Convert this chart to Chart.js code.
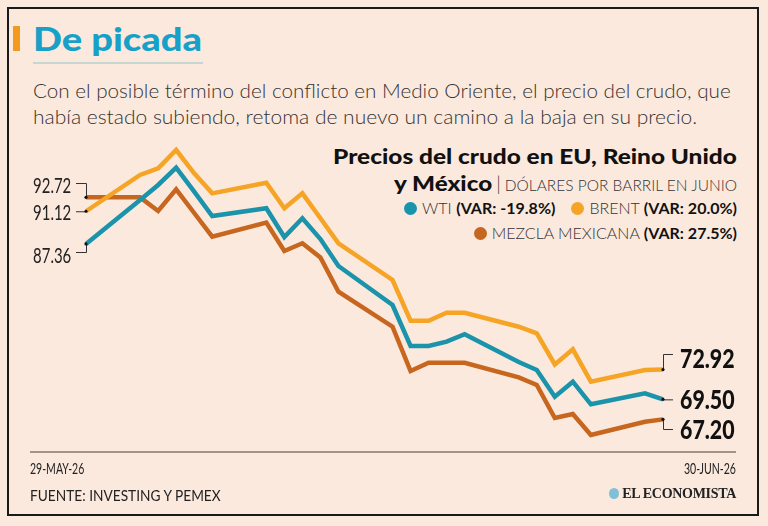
<!DOCTYPE html>
<html lang="es">
<head>
  <meta charset="UTF-8" />
  <title>De picada</title>
  <script src="https://cdn.jsdelivr.net/npm/chart.js"></script>
  <style>
    html, body {
      margin: 0;
      padding: 0;
      background: #fce9dd;
    }
    body {
      width: 768px;
      height: 526px;
      position: relative;
      overflow: hidden;
      font-family: Lato, "Noto Sans", sans-serif;
      color: #222;
    }
    .marco {
      position: absolute;
      left: 7px; top: 7px;
      width: 752px; height: 509px;
      border: 2.5px solid #1a1a1a;
      box-sizing: border-box;
    }
    .barra {
      position: absolute;
      left: 13px; top: 26px;
      width: 7px; height: 25px;
      background: #f39a1e;
    }
    .titulo {
      position: absolute;
      left: 33px; top: 19px;
      font-size: 32px;
      font-weight: 900;
      color: #17a1c8;
      line-height: 40px;
      white-space: nowrap;
    }
    .subrayado {
      position: absolute;
      left: 33px; top: 62px;
      width: 170px; height: 2px;
      background: #c6d6d1;
    }
    .sub {
      position: absolute;
      left: 33px;
      font-size: 20.5px;
      font-weight: 300;
      color: #333;
      white-space: nowrap;
      line-height: 24px;
    }
    .derecha {
      position: absolute;
      right: 31px;
      white-space: nowrap;
      text-align: right;
    }
    .t1 { font-size: 21.5px; font-weight: 900; line-height: 26px; color: #111; }
    .ligero { font-weight: 300; font-size: 15.5px; color: #333; }
    .leyenda { font-size: 16px; line-height: 20px; color: #333; font-weight: 300; }
    .leyenda b { font-weight: 700; color: #111; }
    .punto {
      display: inline-block;
      width: 13px; height: 13px;
      border-radius: 50%;
      vertical-align: -1px;
      margin-right: 5px;
      margin-left: 14px;
    }
    .eje {
      position: absolute;
      left: 30px; top: 451px;
      width: 706px; height: 1.5px;
      background: #a09389;
    }
    .pie {
      position: absolute;
      font-size: 15px;
      color: #222;
      white-space: nowrap;
    }
    .logo {
      position: absolute;
      right: 32px; top: 486px;
      font-family: "Liberation Serif", serif;
      font-weight: 700;
      font-size: 14px;
      color: #222;
      letter-spacing: -0.3px;
      white-space: nowrap;
    }
    .logo span {
      display: inline-block;
      width: 10px; height: 11px;
      border-radius: 50%;
      background: #7fc0d8;
      margin-right: 3px;
      vertical-align: -1px;
    }
    .valor {
      position: absolute;
      white-space: nowrap;
      color: #111;
      line-height: 1;
    }
    .ini { font-size: 22px; color: #222; }
    .fin { font-size: 26px; font-weight: 900; }
    canvas { position: absolute; left: 0; top: 0; }
  </style>
</head>
<body>

  <div class="marco"></div>
  <div class="barra"></div>
  <div class="titulo" id="titulo">De picada</div>
  <div class="subrayado"></div>
  <div class="sub" id="sub1" style="top:78px">Con el posible término del conflicto en Medio Oriente, el precio del crudo, que</div>
  <div class="sub" id="sub2" style="top:104px">había estado subiendo, retoma de nuevo un camino a la baja en su precio.</div>

  <div class="derecha t1" id="t1" style="top:143px">Precios del crudo en EU, Reino Unido</div>
  <div class="derecha" style="top:170px"><span class="t1" id="t2" style="display:inline-block">y México</span> <span class="ligero" style="font-size:19px">|</span> <span class="ligero">DÓLARES POR BARRIL EN JUNIO</span></div>
  <div class="derecha leyenda" style="top:198px"><span class="punto" style="background:#1a93ab"></span>WTI <b>(VAR: -19.8%)</b><span class="punto" style="background:#f5a425; margin-left:16px"></span>BRENT <b>(VAR: 20.0%)</b></div>
  <div class="derecha leyenda" style="top:223px"><span class="punto" style="background:#c6661f"></span>MEZCLA MEXICANA <b>(VAR: 27.5%)</b></div>

  <canvas id="grafico-crudo" width="768" height="526"></canvas>

  <div class="eje"></div>
  <div class="pie" id="f1" style="left:30px; top:459px">29-MAY-26</div>
  <div class="pie" id="f2" style="right:32px; top:459px">30-JUN-26</div>
  <div class="pie" id="f3" style="left:30px; top:486px; font-size:15.5px">FUENTE: INVESTING Y PEMEX</div>
  <div class="logo"><span></span>EL ECONOMISTA</div>

  <script>
    // dias del 29 de mayo al 30 de junio (fines de semana sin dato)
    const dias = [
      '29-MAY-26', '30-MAY-26', '31-MAY-26',
      '01-JUN-26', '02-JUN-26', '03-JUN-26', '04-JUN-26', '05-JUN-26', '06-JUN-26', '07-JUN-26',
      '08-JUN-26', '09-JUN-26', '10-JUN-26', '11-JUN-26', '12-JUN-26', '13-JUN-26', '14-JUN-26',
      '15-JUN-26', '16-JUN-26', '17-JUN-26', '18-JUN-26', '19-JUN-26', '20-JUN-26', '21-JUN-26',
      '22-JUN-26', '23-JUN-26', '24-JUN-26', '25-JUN-26', '26-JUN-26', '27-JUN-26', '28-JUN-26',
      '29-JUN-26', '30-JUN-26'
    ];

    const wti = [
      87.36, null, null,
      92.41, 94.14, 96.13, 93.37, 90.57, null, null,
      91.46, 88.16, 90.31, 87.93, 84.83, null, null,
      80.34, 75.63, 75.63, 76.13, 76.98, null, null,
      73.79, 72.87, 69.80, 71.53, 68.93, null, null,
      70.20, 69.50
    ];

    const brent = [
      91.12, null, null,
      95.29, 96.06, 98.16, 95.48, 93.18, null, null,
      94.40, 91.46, 93.18, 90.31, 87.44, null, null,
      83.22, 78.54, 78.54, 79.46, 79.46, null, null,
      77.85, 77.09, 73.51, 75.25, 71.53, null, null,
      72.87, 72.92
    ];

    const mezcla = [
      92.72, null, null,
      92.72, 91.15, 93.64, 90.92, 88.20, null, null,
      89.83, 86.55, 87.44, 85.80, 81.87, null, null,
      77.85, 72.76, 73.71, 73.71, 73.71, null, null,
      72.03, 71.15, 67.36, 67.82, 65.40, null, null,
      66.93, 67.20
    ];

    const colores = { wti: '#1a93ab', brent: '#f5a425', mezcla: '#c6661f' };

    // estira o encoge un texto hasta un ancho dado
    function ajustar(el, ancho, origen) {
      const w = el.offsetWidth;
      el.style.transformOrigin = origen + ' center';
      el.style.transform = 'scaleX(' + (ancho / w) + ')';
    }

    // corchetes y puntitos negros en los extremos
    const marcas = {
      id: 'marcas',
      afterDatasetsDraw(chart) {
        const ctx = chart.ctx;
        const x = chart.scales.x, y = chart.scales.y;
        const last = dias.length - 1;
        const x0 = x.getPixelForValue(0), x1 = x.getPixelForValue(last);
        ctx.save();
        ctx.strokeStyle = '#333';
        ctx.lineWidth = 1;
        const linea = (pts) => {
          ctx.beginPath();
          ctx.moveTo(pts[0][0], pts[0][1]);
          pts.slice(1).forEach(p => ctx.lineTo(p[0], p[1]));
          ctx.stroke();
        };
        // izquierda
        linea([[76, 183.5], [x0 + 0.5, 183.5], [x0 + 0.5, y.getPixelForValue(mezcla[0])]]);
        linea([[76, y.getPixelForValue(brent[0]) + 0.5], [x0, y.getPixelForValue(brent[0]) + 0.5]]);
        linea([[76, 252.5], [x0 + 0.5, 252.5], [x0 + 0.5, y.getPixelForValue(wti[0])]]);
        // derecha
        linea([[x1 + 0.5, y.getPixelForValue(brent[last])], [x1 + 0.5, 354.5], [673, 354.5]]);
        linea([[x1, y.getPixelForValue(wti[last]) + 0.5], [673, y.getPixelForValue(wti[last]) + 0.5]]);
        linea([[x1 + 0.5, y.getPixelForValue(mezcla[last])], [x1 + 0.5, 429.5], [673, 429.5]]);
        ctx.fillStyle = '#111';
        [wti, brent, mezcla].forEach(s => {
          [0, last].forEach(i => {
            ctx.beginPath();
            ctx.arc(x.getPixelForValue(i), y.getPixelForValue(s[i]), 1.6, 0, Math.PI * 2);
            ctx.fill();
          });
        });
        ctx.restore();
      }
    };

    const ctx = document.getElementById('grafico-crudo').getContext('2d');
    const grafico = new Chart(ctx, {
      type: 'line',
      data: {
        labels: dias,
        datasets: [
          { label: 'WTI', data: wti, borderColor: colores.wti },
          { label: 'BRENT', data: brent, borderColor: colores.brent },
          { label: 'MEZCLA MEXICANA', data: mezcla, borderColor: colores.mezcla }
        ]
      },
      options: {
        responsive: false,
        animation: false,
        devicePixelRatio: 1,
        spanGaps: true,
        layout: { padding: { left: 86, right: 105, top: 134, bottom: 44 } },
        elements: {
          line: { borderWidth: 4.5, tension: 0, borderJoinStyle: 'miter', borderCapStyle: 'butt' },
          point: { radius: 0, hoverRadius: 0 }
        },
        clip: false,
        plugins: {
          legend: { display: false },
          tooltip: { enabled: false }
        },
        scales: {
          x: { display: false },
          y: { display: false, min: 60, max: 100 }
        }
      },
      plugins: [marcas]
    });

    // etiquetas de valores (texto real) colocadas con las escalas
    const sy = grafico.scales.y;
    const last = dias.length - 1;
    function etiqueta(texto, clase, x, yc, ancho, derecha) {
      const d = document.createElement('div');
      d.className = 'valor ' + clase;
      d.textContent = texto;
      document.body.appendChild(d);
      const h = d.offsetHeight;
      d.style.top = (yc - h / 2) + 'px';
      if (derecha) d.style.right = (768 - x) + 'px';
      else d.style.left = x + 'px';
      ajustar(d, ancho, derecha ? 'right' : 'left');
    }
    etiqueta(mezcla[0].toFixed(2), 'ini', 71, 185, 38, true);
    etiqueta(brent[0].toFixed(2), 'ini', 71, sy.getPixelForValue(brent[0]) + 1, 38, true);
    etiqueta(wti[0].toFixed(2), 'ini', 71, 255, 38, true);
    etiqueta(brent[last].toFixed(2), 'fin', 680, 358, 55, false);
    etiqueta(wti[last].toFixed(2), 'fin', 680, 399, 55, false);
    etiqueta(mezcla[last].toFixed(2), 'fin', 680, 429, 55, false);

    ajustar(document.getElementById('titulo'), 169, 'left');
    ajustar(document.getElementById('sub1'), 698, 'left');
    ajustar(document.getElementById('sub2'), 664, 'left');
    ajustar(document.getElementById('t1'), 404, 'right');
    ajustar(document.getElementById('t2'), 98, 'right');
    ajustar(document.getElementById('f1'), 54, 'left');
    ajustar(document.getElementById('f2'), 52, 'right');
    ajustar(document.getElementById('f3'), 191, 'left');
  </script>

</body>
</html>
